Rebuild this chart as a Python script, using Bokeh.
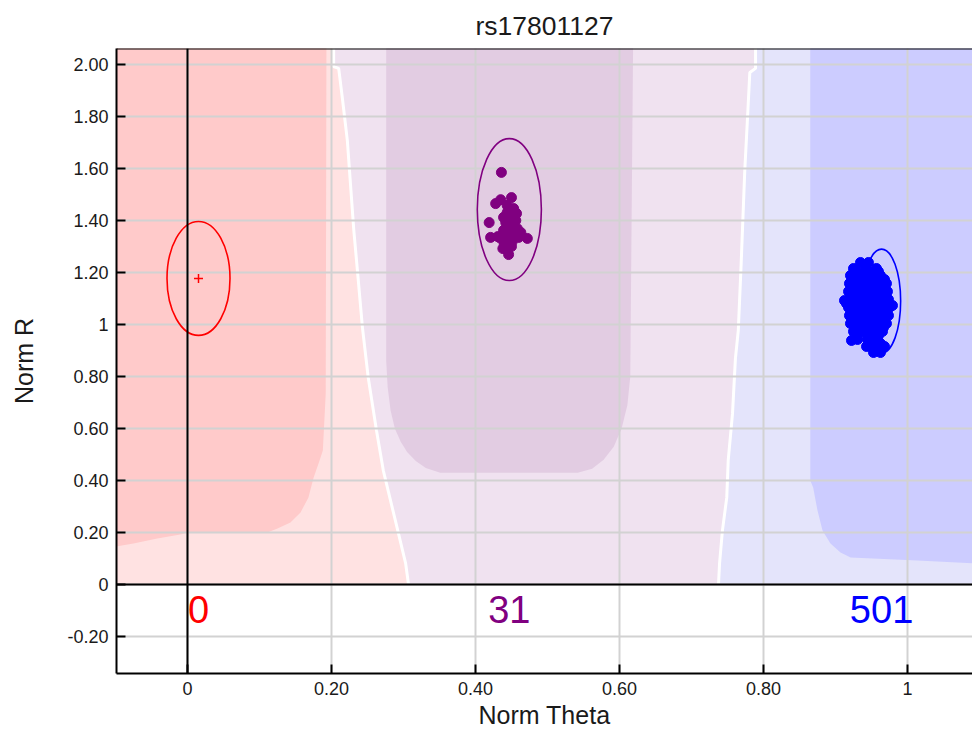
from bokeh.plotting import figure
from bokeh.models import FixedTicker, Span, ColumnDataSource
from bokeh.core.properties import value
from bokeh.embed import file_html
from bokeh.resources import INLINE

FONT = "Liberation Sans"

snp_name = "rs17801127"

# Axis ticks and their printed labels
theta_ticks = [0.0, 0.2, 0.4, 0.6, 0.8, 1.0]
theta_tick_labels = ["0", "0.20", "0.40", "0.60", "0.80", "1"]
r_ticks = [-0.2, 0.0, 0.2, 0.4, 0.6, 0.8, 1.0, 1.2, 1.4, 1.6, 1.8, 2.0]
r_tick_labels = ["-0.20", "0", "0.20", "0.40", "0.60", "0.80", "1",
                 "1.20", "1.40", "1.60", "1.80", "2.00"]

theta_range = (-0.0986, 1.0903)
r_range = (-0.3423, 2.0615)
r_top = 2.1
theta_left = -0.1
theta_right = 1.1

# Genotype clusters (AA, AB, BB)
cluster_colors = ["#ff0000", "#800080", "#0000ff"]
cluster_counts = [0, 31, 501]
cluster_theta = [0.0153, 0.447, 0.964]
cluster_r = [1.177, 1.442, 1.09]
cluster_theta_width = [0.0875, 0.089, 0.053]
cluster_r_height = [0.438, 0.546, 0.40]
count_r = [-0.096, -0.096, -0.096]

# Call-region boundaries (Norm Theta / Norm R)
aa_core_theta = [-0.1, -0.075, -0.042, -0.01, 0.0, 0.111, 0.125, 0.143, 0.157,
                 0.168, 0.175, 0.182, 0.188, 0.192, 0.193, -0.1]
aa_core_r = [0.146, 0.158, 0.177, 0.192, 0.2, 0.2, 0.215, 0.238, 0.277,
             0.335, 0.41, 0.465, 0.515, 0.735, 2.1, 2.1]

ab_core_theta = [0.276, 0.276, 0.278, 0.282, 0.288, 0.296, 0.305, 0.317, 0.331, 0.351,
                 0.542, 0.562, 0.578, 0.592, 0.603, 0.611, 0.615, 0.619]
ab_core_r = [2.1, 0.86, 0.76, 0.67, 0.60, 0.55, 0.51, 0.475, 0.448, 0.43,
             0.43, 0.445, 0.48, 0.53, 0.60, 0.69, 0.80, 2.1]

bb_core_theta = [0.865, 0.865, 0.869, 0.875, 0.882, 0.893, 0.907, 0.921,
                 1.014, 1.1, 1.1]
bb_core_r = [2.1, 0.40, 0.373, 0.285, 0.208, 0.158, 0.123, 0.104,
             0.092, 0.08, 2.1]

aa_ab_edge_theta = [0.203, 0.203, 0.21, 0.215, 0.222, 0.226, 0.231, 0.236,
                    0.243, 0.251, 0.2625, 0.272, 0.292, 0.303, 0.307]
aa_ab_edge_r = [2.1, 1.992, 1.985, 1.873, 1.708, 1.554, 1.362, 1.208,
                0.988, 0.796, 0.592, 0.438, 0.208, 0.081, 0.0]

ab_bb_edge_theta = [0.789, 0.789, 0.781, 0.778, 0.774, 0.769, 0.765, 0.761,
                    0.757, 0.751, 0.749, 0.743, 0.739, 0.7375]
ab_bb_edge_r = [2.1, 1.985, 1.969, 1.804, 1.592, 1.235, 0.977, 0.869,
                0.658, 0.477, 0.335, 0.208, 0.081, 0.0]

region_colors = {
    "aa_outer": "#ffe2e2", "aa_core": "#ffcaca",
    "ab_outer": "#f0e2f0", "ab_core": "#e2cce2",
    "bb_outer": "#e4e4fb", "bb_core": "#ccccff",
}

# Samples called AB
ab_theta = [0.436, 0.428, 0.435, 0.45, 0.419, 0.421, 0.472, 0.446,
            0.444, 0.451, 0.456, 0.442, 0.449, 0.458, 0.439, 0.447,
            0.454, 0.435, 0.443, 0.451, 0.46, 0.431, 0.44, 0.45,
            0.447, 0.457, 0.439, 0.453, 0.444, 0.463, 0.438]
ab_r = [1.585, 1.465, 1.48, 1.488, 1.392, 1.335, 1.331, 1.269,
        1.431, 1.419, 1.40, 1.392, 1.381, 1.369, 1.362, 1.35,
        1.342, 1.331, 1.323, 1.319, 1.335, 1.338, 1.308, 1.30,
        1.415, 1.427, 1.412, 1.446, 1.458, 1.354, 1.292]

# Samples called BB
bb_theta = [0.9347, 0.9458,
            0.925, 0.9417, 0.9569,
            0.9292, 0.9458, 0.9597,
            0.9208, 0.9347, 0.9486, 0.9625,
            0.925, 0.9403, 0.9542, 0.9681,
            0.9194, 0.9333, 0.9472, 0.9611, 0.9708,
            0.9236, 0.9403, 0.9542, 0.9667,
            0.9181, 0.9319, 0.9458, 0.9597, 0.9722,
            0.9222, 0.9389, 0.9528, 0.9667,
            0.9181, 0.9319, 0.9458, 0.9597, 0.9736,
            0.9153, 0.9236, 0.9389, 0.9528, 0.9667, 0.9125,
            0.9181, 0.9319, 0.9458, 0.9597, 0.975, 0.9792,
            0.9236, 0.9389, 0.9528, 0.9681,
            0.9194, 0.9333, 0.9472, 0.9611, 0.9736,
            0.925, 0.9403, 0.9542, 0.9667,
            0.9208, 0.9347, 0.9486, 0.9625, 0.9708,
            0.9264, 0.9417, 0.9556, 0.9667,
            0.925, 0.9389, 0.9528, 0.9653,
            0.9306, 0.9458, 0.9597, 0.9222,
            0.9306, 0.9444, 0.9583,
            0.9486, 0.9625,
            0.9431, 0.9569, 0.9681,
            0.9528, 0.9625]
bb_r = [1.2385, 1.2385,
        1.2154, 1.2154, 1.2154,
        1.2038, 1.2038, 1.2038,
        1.1885, 1.1885, 1.1885, 1.1885,
        1.1731, 1.1731, 1.1731, 1.1731,
        1.1577, 1.1577, 1.1577, 1.1577, 1.1577,
        1.1423, 1.1423, 1.1423, 1.1423,
        1.1269, 1.1269, 1.1269, 1.1269, 1.1269,
        1.1115, 1.1115, 1.1115, 1.1115,
        1.0962, 1.0962, 1.0962, 1.0962, 1.0962,
        1.0808, 1.0808, 1.0808, 1.0808, 1.0808, 1.0923,
        1.0654, 1.0654, 1.0654, 1.0654, 1.0654, 1.0731,
        1.05, 1.05, 1.05, 1.05,
        1.0346, 1.0346, 1.0346, 1.0346, 1.0346,
        1.0192, 1.0192, 1.0192, 1.0192,
        1.0038, 1.0038, 1.0038, 1.0038, 1.0038,
        0.9885, 0.9885, 0.9885, 0.9885,
        0.9731, 0.9731, 0.9731, 0.9731,
        0.9577, 0.9577, 0.9577, 0.9385,
        0.9423, 0.9423, 0.9423,
        0.9269, 0.9269,
        0.9154, 0.9154, 0.9154,
        0.8923, 0.8923]

p = figure(width=972, height=733, x_range=theta_range, y_range=r_range,
           output_backend="svg", toolbar_location=None,
           min_border_left=116, min_border_right=0,
           min_border_top=48, min_border_bottom=60)
p.background_fill_color = "white"
p.border_fill_color = "white"
p.outline_line_color = None

p.title.text = snp_name
p.title.align = "center"
p.title.text_font = FONT
p.title.text_font_size = "26.5px"
p.title.text_font_style = "normal"
p.title.text_color = "#1a1a1a"
p.title.standoff = 16

# Background call regions
p.patch([theta_left, theta_left] + aa_ab_edge_theta, [0.0, r_top] + aa_ab_edge_r,
        fill_color=region_colors["aa_outer"], line_color=None, level="image")
p.patch(aa_ab_edge_theta + ab_bb_edge_theta[::-1], aa_ab_edge_r + ab_bb_edge_r[::-1],
        fill_color=region_colors["ab_outer"], line_color=None, level="image")
p.patch(ab_bb_edge_theta + [theta_right, theta_right], ab_bb_edge_r + [0.0, r_top],
        fill_color=region_colors["bb_outer"], line_color=None, level="image")
p.patch(aa_core_theta, aa_core_r, fill_color=region_colors["aa_core"],
        line_color=None, level="image")
p.patch(ab_core_theta, ab_core_r, fill_color=region_colors["ab_core"],
        line_color=None, level="image")
p.patch(bb_core_theta, bb_core_r, fill_color=region_colors["bb_core"],
        line_color=None, level="image")
p.line(aa_ab_edge_theta, aa_ab_edge_r, line_color="white", line_width=3, level="image")
p.line(ab_bb_edge_theta, ab_bb_edge_r, line_color="white", line_width=3, level="image")

# Grid
for grid, ticks in ((p.xgrid, theta_ticks), (p.ygrid, r_ticks)):
    grid.ticker = FixedTicker(ticks=ticks)
    grid.grid_line_color = "#d2d2d2"
    grid.grid_line_width = 2

# Cluster ellipses
clusters = ColumnDataSource(dict(x=cluster_theta, y=cluster_r, w=cluster_theta_width,
                                 h=cluster_r_height, color=cluster_colors,
                                 n=[str(c) for c in cluster_counts], cr=count_r))
p.ellipse(x="x", y="y", width="w", height="h", source=clusters,
          fill_color=None, line_color="color", line_width=1.6)

# Centre marker for clusters without samples
empty = [i for i, c in enumerate(cluster_counts) if c == 0]
p.scatter([cluster_theta[i] for i in empty], [cluster_r[i] for i in empty],
          marker="cross", size=9, line_width=1.5,
          line_color=[cluster_colors[i] for i in empty])

# Samples
p.scatter(ab_theta, ab_r, size=10, color=cluster_colors[1])
p.scatter(bb_theta, bb_r, size=10, color=cluster_colors[2])

# Sample counts per cluster
p.text(x="x", y="cr", text="n", source=clusters, text_color="color",
       text_font=value(FONT), text_font_size="38px",
       text_align="center", text_baseline="middle")

# Zero lines and top border
p.add_layout(Span(location=0, dimension="height", line_color="black", line_width=2))
p.add_layout(Span(location=0, dimension="width", line_color="black", line_width=2))
p.add_layout(Span(location=r_range[1], dimension="width", line_color="black", line_width=2))

# Axes
for axis, ticks, labels in ((p.xaxis, theta_ticks, theta_tick_labels),
                            (p.yaxis, r_ticks, r_tick_labels)):
    axis.ticker = FixedTicker(ticks=ticks)
    axis.major_label_overrides = dict(zip(ticks, labels))
    axis.major_tick_in = 9
    axis.major_tick_out = 0
    axis.minor_tick_line_color = None
    axis.axis_line_color = "black"
    axis.axis_line_width = 2
    axis.major_tick_line_color = "black"
    axis.major_tick_line_width = 2
    axis.major_label_text_font = FONT
    axis.major_label_text_font_size = "18px"
    axis.major_label_text_color = "#1a1a1a"
    axis.major_label_standoff = 8
    axis.axis_label_text_font = FONT
    axis.axis_label_text_font_size = "25px"
    axis.axis_label_text_font_style = "normal"
    axis.axis_label_text_color = "#1a1a1a"

p.xaxis.axis_label = "Norm Theta"
p.yaxis.axis_label = "Norm R"
p.xaxis.axis_label_standoff = 3
p.yaxis.axis_label_standoff = 26

open("out.html", "w").write(file_html(p, INLINE))
